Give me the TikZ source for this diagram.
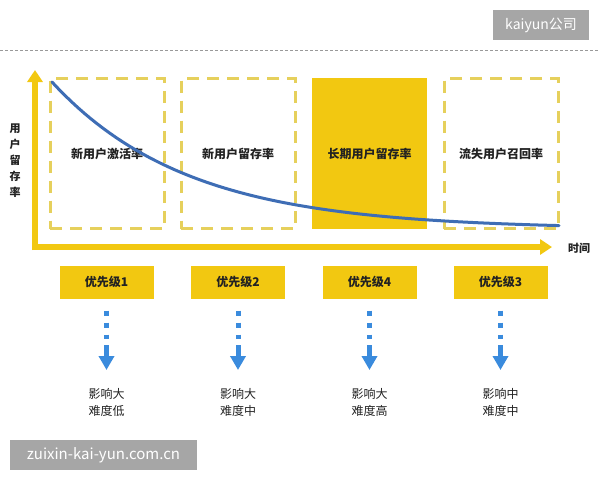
\documentclass[tikz,border=0pt]{standalone}
\usepackage{fontspec}
\setmainfont{Noto Sans CJK SC}
\usetikzlibrary{arrows.meta}
\definecolor{gold}{HTML}{F2C811}
\definecolor{paleGold}{HTML}{E6D05C}
\definecolor{curveBlue}{HTML}{3E6DB5}
\definecolor{flowBlue}{HTML}{3A8BDD}
\definecolor{markGray}{HTML}{A6A6A6}
\definecolor{ink}{HTML}{222222}
\tikzset{
  stagebox/.style={draw=paleGold, line width=3pt, dash pattern=on 12pt off 8pt,
    minimum width=114pt, minimum height=150pt, font=\fontsize{12}{14}\selectfont\bfseries, text=ink},
  stagefill/.style={fill=gold, minimum width=115pt, minimum height=151pt,
    font=\fontsize{12}{14}\selectfont\bfseries, text=ink},
  prio/.style={fill=gold, minimum width=94pt, minimum height=33pt,
    font=\fontsize{12}{14}\selectfont\bfseries, text=ink},
  effect/.style={anchor=north, inner sep=0pt, align=center, text=ink,
    font=\fontsize{12}{17}\selectfont},
  dotflow/.style={flowBlue, line width=5pt, dash pattern=on 5pt off 7pt, shorten <=12pt},
  arrowflow/.style={flowBlue, line width=5pt, shorten <=6pt, shorten >=18pt,
    -{Triangle[width=15pt,length=14pt]}},
  axis/.style={gold, line width=6pt, -{Triangle[width=15pt,length=12pt]}},
  stamp/.style={fill=markGray, text=white, inner sep=0pt}
}
\begin{document}
\begin{tikzpicture}[x=1pt,y=-1pt]
  \useasboundingbox[fill=white] (0,0) rectangle (600,480);
  % watermark and separator
  \node[stamp, minimum width=96pt, minimum height=30pt, font=\fontsize{14}{16}\selectfont] (mark1) at (541,25) {kaiyun公司};
  \draw[gray!80, line width=0.8pt, dash pattern=on 3pt off 2pt] (0,50) -- (600,50);
  % axes
  \coordinate (origin) at (35,247);
  \draw[axis] (35,250) -- (35,70);
  \draw[axis] (32,247) -- (552,247);
  \node[align=center, inner sep=0pt, text=ink, font=\fontsize{11}{16}\selectfont\bfseries] (ylab) at (15,161) {用\\户\\留\\存\\率};
  \node[text=ink, font=\fontsize{11}{13}\selectfont\bfseries] (xlab) at (579,248) {时间};
  % stages
  \node[stagebox] (stage1) at (107,153.5) {新用户激活率};
  \node[stagebox] (stage2) at (238,153.5) {新用户留存率};
  \node[stagefill] (stage3) at (369.5,153.5) {长期用户留存率};
  \node[stagebox] (stage4) at (501,153.5) {流失用户召回率};
  % retention curve
  \draw[curveBlue, line width=3pt, line cap=round, domain=52:559, samples=80]
    plot (\x, {229-147*exp(-(\x-52)/135)});
  % priorities
  \node[prio] (prio1) at (106.5,282) {优先级1};
  \node[prio] (prio2) at (238,282) {优先级2};
  \node[prio] (prio3) at (369.5,282) {优先级4};
  \node[prio] (prio4) at (500.5,282) {优先级3};
  \node[effect] (eff1) at (106.5,388) {影响大\\难度低};
  \node[effect] (eff2) at (238,388) {影响大\\难度中};
  \node[effect] (eff3) at (369.5,388) {影响大\\难度高};
  \node[effect] (eff4) at (500.5,388) {影响中\\难度中};
  \coordinate (mid1) at (106.5,339);
  \coordinate (mid2) at (238,339);
  \coordinate (mid3) at (369.5,339);
  \coordinate (mid4) at (500.5,339);
  \draw[dotflow] (prio1.south) -- (mid1);
  \draw[dotflow] (prio2.south) -- (mid2);
  \draw[dotflow] (prio3.south) -- (mid3);
  \draw[dotflow] (prio4.south) -- (mid4);
  \draw[arrowflow] (mid1) -- (eff1.north);
  \draw[arrowflow] (mid2) -- (eff2.north);
  \draw[arrowflow] (mid3) -- (eff3.north);
  \draw[arrowflow] (mid4) -- (eff4.north);
  % footer watermark
  \node[stamp, minimum width=187pt, minimum height=30pt, font=\fontsize{15}{17}\selectfont] (mark2) at (103.5,455) {zuixin-kai-yun.com.cn};
\end{tikzpicture}
\end{document}
